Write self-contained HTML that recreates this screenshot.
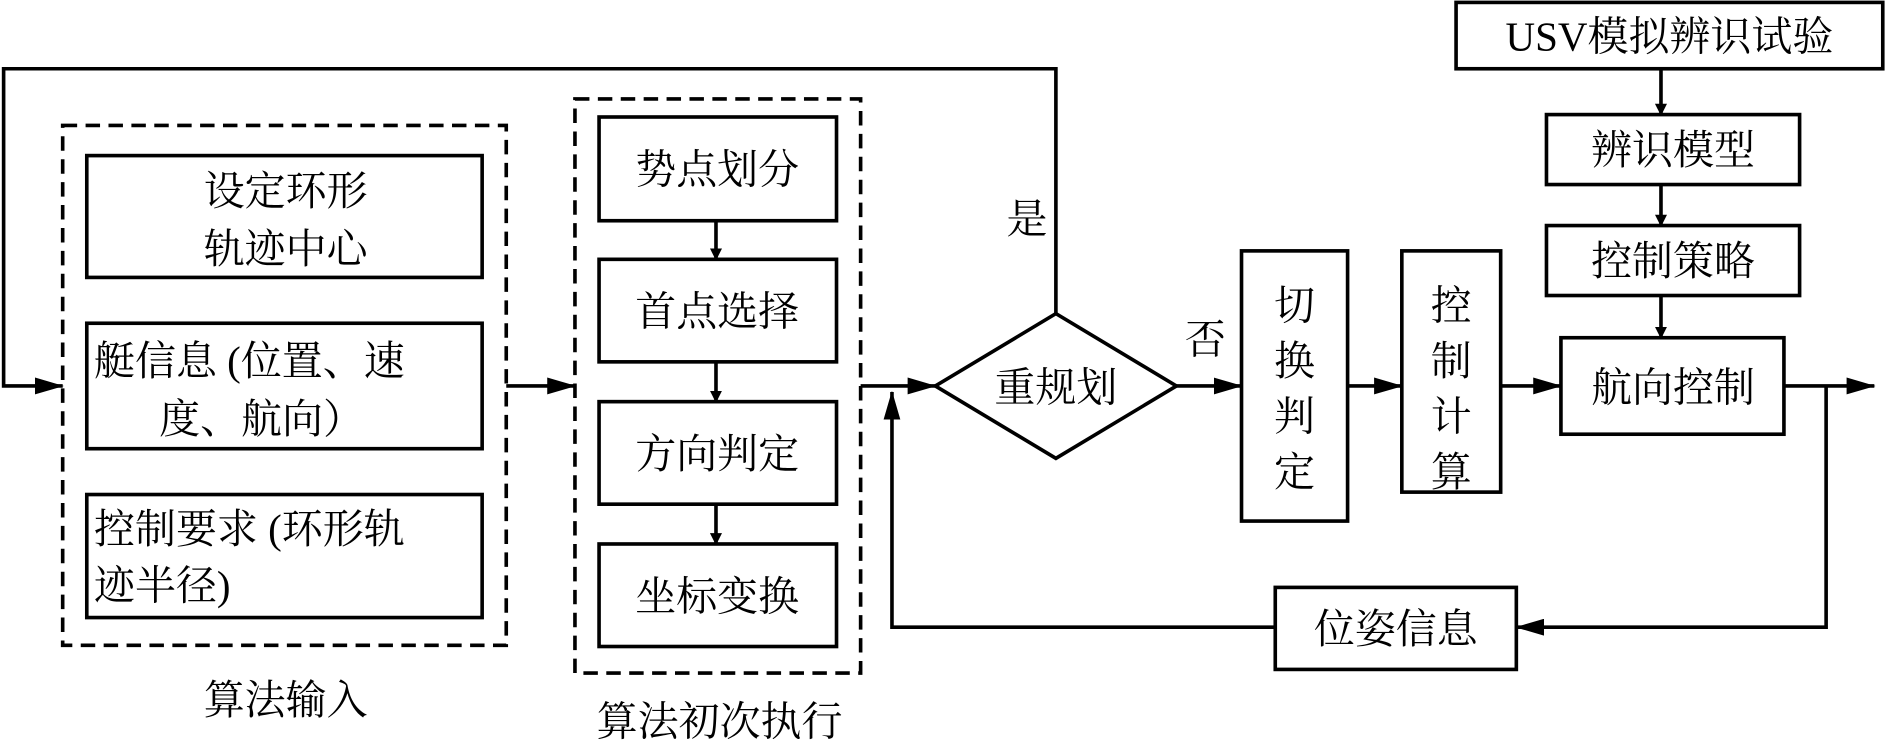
<!DOCTYPE html>
<html><head><meta charset="utf-8"><style>
html,body{margin:0;padding:0;background:#fff;}
svg{display:block;}
text{font-family:"Liberation Serif","Noto Serif CJK SC","Noto Sans CJK SC",serif;font-size:34px;fill:#000;}
</style></head><body>
<svg width="1890" height="743" viewBox="0 0 1568 616" preserveAspectRatio="none" xmlns="http://www.w3.org/2000/svg">
<defs><marker id="a" markerWidth="10" markerHeight="10" refX="9" refY="5" orient="auto" markerUnits="userSpaceOnUse"><path d="M0,0 L10,5 L0,10 Z" fill="#000"/></marker>
<marker id="b" markerWidth="24" markerHeight="14" refX="23" refY="7" orient="auto" markerUnits="userSpaceOnUse"><path d="M0,0 L24,7 L0,14 Z" fill="#000"/></marker></defs>
<g fill="none" stroke="#000" stroke-width="3">
<rect x="1208" y="2" width="354" height="55"/>
<rect x="1283" y="95" width="210" height="58"/>
<rect x="1283" y="187" width="210" height="58"/>
<rect x="1295" y="280" width="185" height="80"/>
<rect x="1058" y="487" width="200" height="68"/>
<rect x="52" y="104" width="368" height="431" stroke-dasharray="12,7"/>
<rect x="477" y="82" width="237" height="476" stroke-dasharray="12,7"/>
<rect x="72" y="129" width="328" height="101"/>
<rect x="72" y="268" width="328" height="104"/>
<rect x="72" y="410" width="328" height="102"/>
<rect x="497" y="97" width="197" height="86"/>
<rect x="497" y="215" width="197" height="85"/>
<rect x="497" y="333" width="197" height="85"/>
<rect x="497" y="451" width="197" height="85"/>
<polygon points="776,320 876,260 976,320 876,380"/>
<rect x="1030" y="208" width="88" height="224"/>
<rect x="1163" y="208" width="82" height="200"/>
<line x1="1378" y1="57" x2="1378" y2="95" marker-end="url(#a)"/>
<line x1="1378" y1="153" x2="1378" y2="187" marker-end="url(#a)"/>
<line x1="1378" y1="245" x2="1378" y2="280" marker-end="url(#a)"/>
<line x1="594" y1="183" x2="594" y2="215" marker-end="url(#a)"/>
<line x1="594" y1="300" x2="594" y2="333" marker-end="url(#a)"/>
<line x1="594" y1="418" x2="594" y2="451" marker-end="url(#a)"/>
<line x1="1480" y1="320" x2="1555" y2="320" marker-end="url(#b)"/>
<polyline points="1515,320 1515,520 1258,520" marker-end="url(#b)"/>
<polyline points="1058,520 740,520 740,325" marker-end="url(#b)"/>
<polyline points="876,260 876,57 3,57 3,320 52,320" marker-end="url(#b)"/>
<line x1="420" y1="320" x2="477" y2="320" marker-end="url(#b)"/>
<line x1="714" y1="320" x2="776" y2="320" marker-end="url(#b)"/>
<line x1="976" y1="320" x2="1030" y2="320" marker-end="url(#b)"/>
<line x1="1118" y1="320" x2="1163" y2="320" marker-end="url(#b)"/>
<line x1="1245" y1="320" x2="1295" y2="320" marker-end="url(#b)"/>
</g>
<g text-anchor="middle">
<text x="1385" y="42">USV模拟辨识试验</text>
<text x="1388" y="136">辨识模型</text>
<text x="1388" y="228">控制策略</text>
<text x="1388" y="333">航向控制</text>
<text x="1158" y="533">位姿信息</text>
<text x="237" y="170">设定环形</text>
<text x="237" y="218">轨迹中心</text>
<text x="595" y="152">势点划分</text>
<text x="595" y="270">首点选择</text>
<text x="595" y="388">方向判定</text>
<text x="595" y="506">坐标变换</text>
<text x="876" y="333">重规划</text>
<text x="852" y="193">是</text>
<text x="1000" y="293">否</text>
<text x="237" y="592">算法输入</text>
<text x="597" y="610">算法初次执行</text>
<text x="1074" y="265">切</text><text x="1074" y="311">换</text><text x="1074" y="357">判</text><text x="1074" y="403">定</text>
<text x="1204" y="265">控</text><text x="1204" y="311">制</text><text x="1204" y="357">计</text><text x="1204" y="403">算</text>
</g>
<text x="78" y="311">艇信息 (位置、速</text>
<text x="132" y="359">度、航向）</text>
<text x="78" y="450">控制要求 (环形轨</text>
<text x="78" y="497">迹半径)</text>
</svg>
</body></html>
